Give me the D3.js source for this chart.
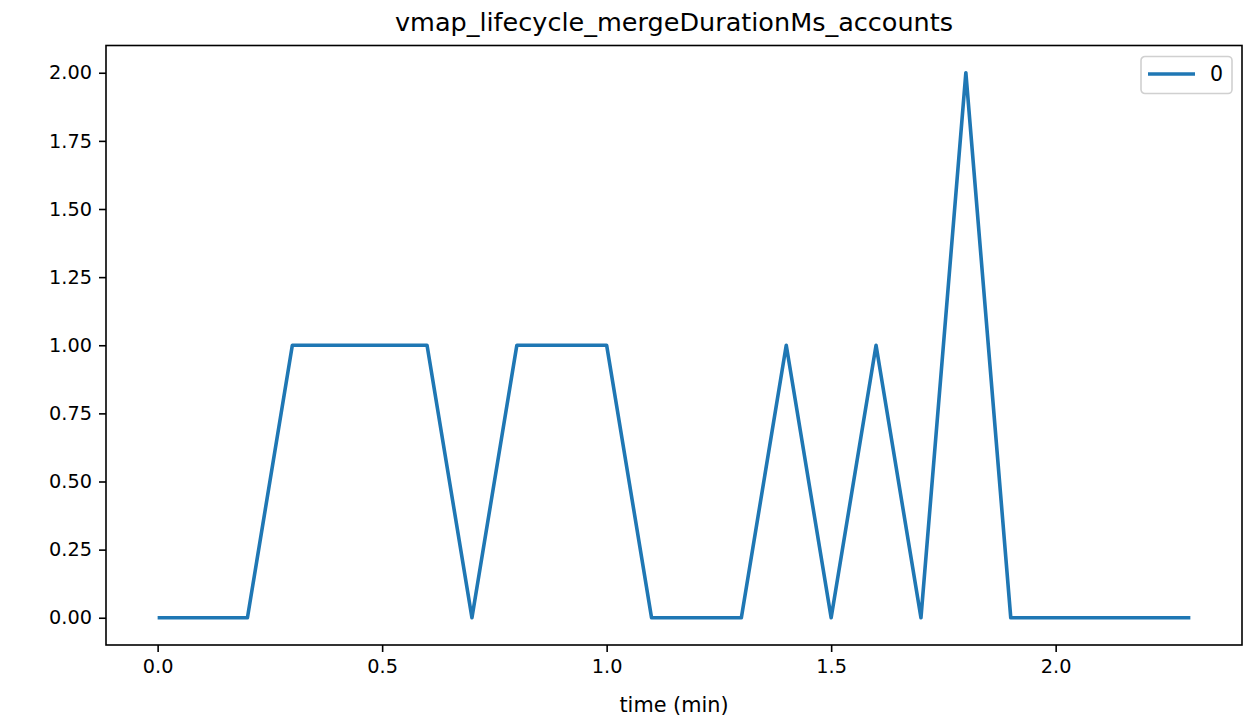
<!DOCTYPE html>
<html>
<head>
<meta charset="utf-8">
<title>vmap_lifecycle_mergeDurationMs_accounts</title>
<script src="https://d3js.org/d3.v7.min.js"></script>
<style>
  body { margin: 0; background: #fff; }
  text { font-family: "DejaVu Sans", sans-serif; fill: #000; }
</style>
</head>
<body>
<div id="chart"></div>
<script>
// data
var times = [0.0, 0.1, 0.2, 0.3, 0.4, 0.5, 0.6, 0.7, 0.8, 0.9, 1.0, 1.1,
             1.2, 1.3, 1.4, 1.5, 1.6, 1.7, 1.8, 1.9, 2.0, 2.1, 2.2, 2.3];
var values = [0, 0, 0, 1, 1, 1, 1, 0, 1, 1, 1, 0,
              0, 0, 1, 0, 1, 0, 2, 0, 0, 0, 0, 0];
var xTicks = [0.0, 0.5, 1.0, 1.5, 2.0];
var yTicks = [0, 0.25, 0.5, 0.75, 1.0, 1.25, 1.5, 1.75, 2.0];
var seriesName = "0";

var W = 1243, H = 721;
var margin = {top: 45.5, right: 1, bottom: 76, left: 106};
var width = W - margin.left - margin.right,
    height = H - margin.top - margin.bottom;

var svg = d3.select("#chart").append("svg")
    .attr("width", W).attr("height", H);
var g = svg.append("g")
    .attr("transform", "translate(" + margin.left + "," + margin.top + ")");

// matplotlib-like 5% padding
var xPad = (d3.max(times) - d3.min(times)) * 0.05;
var yPad = (d3.max(values) - d3.min(values)) * 0.05;
var x = d3.scaleLinear()
    .domain([d3.min(times) - xPad, d3.max(times) + xPad])
    .range([0, width]);
var y = d3.scaleLinear()
    .domain([d3.min(values) - yPad, d3.max(values) + yPad])
    .range([height, 0]);

var fs = 19.3;

var xAxis = g.append("g")
    .attr("transform", "translate(0," + height + ")")
    .call(d3.axisBottom(x).tickValues(xTicks).tickFormat(d3.format(".1f"))
      .tickSize(7).tickPadding(7));
var yAxis = g.append("g")
    .call(d3.axisLeft(y).tickValues(yTicks).tickFormat(d3.format(".2f"))
      .tickSize(7).tickPadding(7));
[xAxis, yAxis].forEach(function(a) {
  a.select(".domain").remove();
  a.selectAll("line").attr("stroke", "#000").attr("stroke-width", 1.6);
  a.selectAll("text").style("font-size", fs + "px")
    .style("font-family", "'DejaVu Sans', sans-serif").attr("fill", "#000");
});

// line
var line = d3.line()
    .x(function(d, i) { return x(times[i]); })
    .y(function(d) { return y(d); });
g.append("path")
    .datum(values)
    .attr("fill", "none")
    .attr("stroke", "#1f77b4")
    .attr("stroke-width", 3.6)
    .attr("stroke-linejoin", "round")
    .attr("d", line);

// frame
g.append("rect")
    .attr("width", width).attr("height", height)
    .attr("fill", "none").attr("stroke", "#000").attr("stroke-width", 1.6);

// title and label
svg.append("text")
    .attr("x", margin.left + width / 2).attr("y", 31)
    .attr("text-anchor", "middle")
    .style("font-size", "25.5px")
    .text("vmap_lifecycle_mergeDurationMs_accounts");
svg.append("text")
    .attr("x", margin.left + width / 2).attr("y", 711.5)
    .attr("text-anchor", "middle")
    .style("font-size", "20.8px")
    .text("time (min)");

// legend
var lg = g.append("g").attr("transform", "translate(" + (width - 101) + ",11)");
lg.append("rect")
    .attr("width", 91).attr("height", 37).attr("rx", 4)
    .attr("fill", "#fff").attr("fill-opacity", 0.8)
    .attr("stroke", "#d0d0d0").attr("stroke-width", 1.6);
lg.append("line")
    .attr("x1", 7).attr("x2", 54).attr("y1", 17.5).attr("y2", 17.5)
    .attr("stroke", "#1f77b4").attr("stroke-width", 3.6);
lg.append("text")
    .attr("x", 69).attr("y", 24.5)
    .style("font-size", "20.5px")
    .text(seriesName);
</script>
</body>
</html>
